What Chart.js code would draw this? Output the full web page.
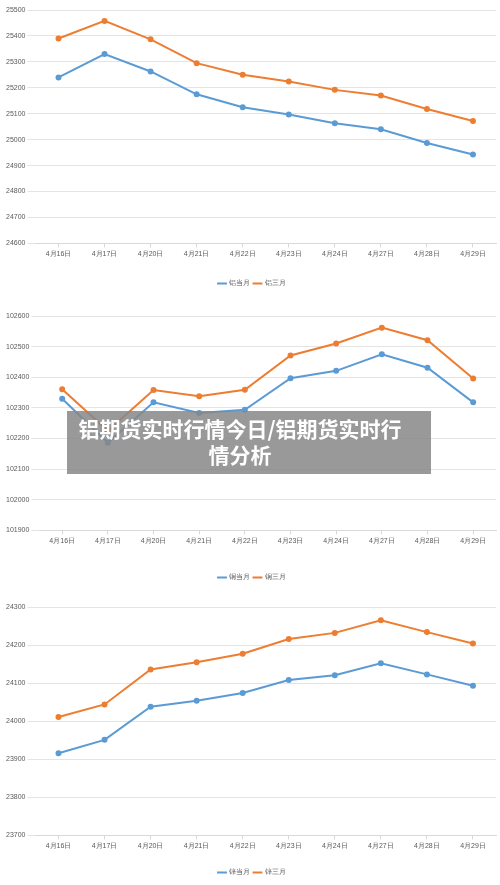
<!DOCTYPE html>
<html><head><meta charset="utf-8">
<script src="https://cdn.jsdelivr.net/npm/chart.js@4/dist/chart.umd.min.js"></script>
<style>
body{margin:0;background:#fff;width:500px;height:885px;position:relative;overflow:hidden;font-family:"Noto Sans CJK SC",sans-serif}
.c{position:absolute;left:0;width:500px}
#ov{position:absolute;left:67px;top:411px;width:364px;height:63px;background:rgba(135,135,135,0.85);color:#fff;font-weight:bold;font-size:21px;line-height:26px;text-align:center;padding:4px 18px 0 0;box-sizing:border-box}
</style></head><body>
<div class="c" style="top:0;height:298px"><canvas id="c1" width="500" height="298"></canvas></div>
<div class="c" style="top:298px;height:296px"><canvas id="c2" width="500" height="296"></canvas></div>
<div class="c" style="top:594px;height:300px"><canvas id="c3" width="500" height="300"></canvas></div>
<div id="ov">铝期货实时行情今日/铝期货实时行<br>情分析</div>
<script>
const categories=["4月16日","4月17日","4月20日","4月21日","4月22日","4月23日","4月24日","4月27日","4月28日","4月29日"];
const alCur=[25240,25330,25263,25175,25125,25097,25063,25040,24987,24943];
const al3=[25390,25458,25387,25295,25250,25224,25192,25170,25118,25072];
const cuCur=[102330,102186,102318,102283,102294,102397,102421,102475,102431,102318];
const cu3=[102361,102225,102358,102338,102359,102471,102510,102562,102521,102396];
const znCur=[23916,23951,24038,24054,24074,24108,24121,24152,24123,24093];
const zn3=[24011,24044,24136,24155,24177,24216,24232,24265,24234,24204];
const names=[["铝当月","铝三月"],["铜当月","铜三月"],["锌当月","锌三月"]];
const ranges=[[24600,25500],[101900,102600],[23700,24300]];
function mk(id,a,b,nm,rg,pad,gap){
 const ds=(l,d,c)=>({label:l,data:d,borderColor:c,backgroundColor:c,borderWidth:2,pointRadius:2,pointHoverRadius:2,tension:0});
 new Chart(document.getElementById(id),{type:'line',
 data:{labels:categories,datasets:[ds(nm[0],a,'#5b9bd5'),ds(nm[1],b,'#ed7d31')]},
 options:{responsive:false,animation:false,
  layout:{padding:pad},
  plugins:{legend:{position:'bottom',labels:{usePointStyle:true,pointStyle:'line',boxWidth:18,font:{size:7},color:'#595959',padding:4}},tooltip:{enabled:false}},
  scales:{x:{offset:true,grid:{display:true,drawOnChartArea:false,tickLength:4,color:'#d9d9d9'},border:{color:'#d9d9d9'},
    title:{display:true,text:' ',font:{size:1},padding:{top:gap,bottom:0}},
    ticks:{font:{size:7},color:'#595959',maxRotation:0,padding:2}},
   y:{min:rg[0],max:rg[1],ticks:{stepSize:100,font:{size:7},color:'#595959',padding:2,callback:v=>String(v)},grid:{color:'#e4e4e4'},border:{display:false}}}}});
}
mk('c1',alCur,al3,names[0],ranges[0],{top:10,right:0,bottom:1,left:4},15);
mk('c2',cuCur,cu3,names[1],ranges[1],{top:18,right:0,bottom:3,left:4},22);
mk('c3',znCur,zn3,names[2],ranges[2],{top:13,right:0,bottom:8,left:4},12);
</script></body></html>
